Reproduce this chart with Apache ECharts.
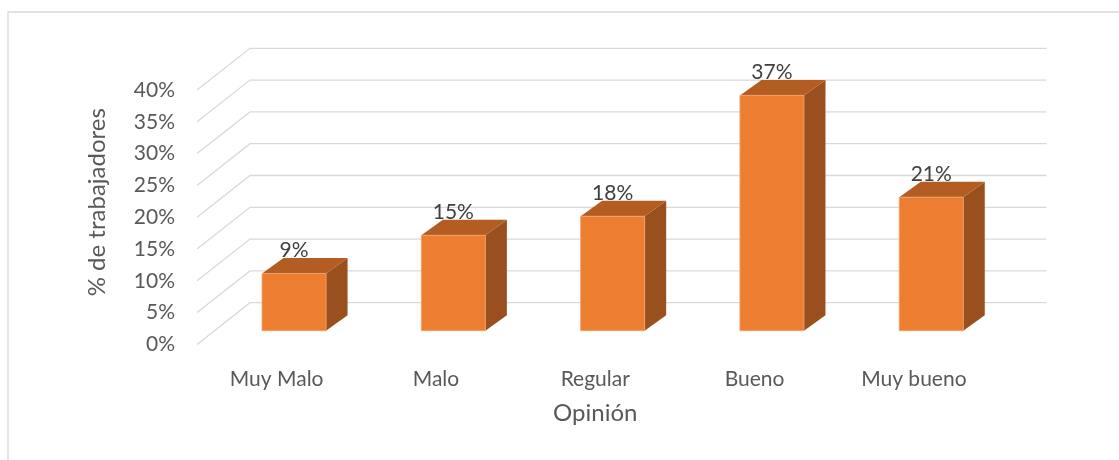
<!DOCTYPE html>
<html>
<head>
<meta charset="utf-8">
<script src="https://cdn.jsdelivr.net/npm/echarts@6/dist/echarts.min.js"></script>
<style>
  html, body { margin: 0; padding: 0; background: #fff; }
  #chart { width: 1119px; height: 460px; }
</style>
</head>
<body>
<div id="chart"></div>
<script>
// Opinión de los trabajadores (porcentaje)
const categories = ['Muy Malo', 'Malo', 'Regular', 'Bueno', 'Muy bueno'];
const percentages = [9, 15, 18, 37, 21];
const yTicks = [0, 5, 10, 15, 20, 25, 30, 35, 40];

const FONT = 'Lato, "Open Sans", sans-serif';
const TEXT_COLOR = '#595959';
const GRID_COLOR = '#d9d9d9';

// Depth between the front edge of the side wall and the back wall (px)
const WALL_DEPTH = [-53, 41.7];
// Where the bar's front face sits relative to the back wall, and the bar's own depth
const BAR_SHIFT = [-35.6, 28];
const BAR_DEPTH = [21.5, -15.5];
const BAR_RATIO = 0.402;

const chart = echarts.init(document.getElementById('chart'), null, { renderer: 'canvas' });

// Back wall horizontal lines plus the receding lines on the left side wall
function renderWallLine(params, api) {
  const cs = params.coordSys;
  const y = api.coord([0, api.value(1)])[1];
  return {
    type: 'polyline',
    shape: {
      points: [
        [cs.x + WALL_DEPTH[0], y + WALL_DEPTH[1]],
        [cs.x, y],
        [cs.x + cs.width, y]
      ]
    },
    style: { stroke: GRID_COLOR, lineWidth: 1.3, fill: null },
    silent: true
  };
}

// 3D-looking column: front face, top face, right side face and value label
function renderBar(params, api) {
  const idx = api.value(0);
  const v = api.value(1);
  const base = api.coord([idx, 0]);
  const top = api.coord([idx, v]);
  const w = api.size([1, 0])[0] * BAR_RATIO;
  const x0 = base[0] - w / 2 + BAR_SHIFT[0];
  const x1 = x0 + w;
  const yb = base[1] + BAR_SHIFT[1];
  const yt = top[1] + BAR_SHIFT[1];
  const dx = BAR_DEPTH[0], dy = BAR_DEPTH[1];
  return {
    type: 'group',
    children: [
      {
        type: 'polygon',
        shape: { points: [[x1, yb], [x1 + dx, yb + dy], [x1 + dx, yt + dy], [x1, yt]] },
        style: { fill: '#9a4f1e' }
      },
      {
        type: 'polygon',
        shape: { points: [[x0, yt], [x1, yt], [x1 + dx, yt + dy], [x0 + dx, yt + dy]] },
        style: { fill: '#b45d23' }
      },
      {
        type: 'rect',
        shape: { x: x0, y: yt, width: w, height: yb - yt },
        style: { fill: '#ed7d31', stroke: '#f3a26c', lineWidth: 0.8 }
      },
      {
        type: 'text',
        style: {
          text: v + '%',
          x: (x0 + x1) / 2,
          y: yt - 23,
          align: 'center',
          verticalAlign: 'middle',
          fill: '#404040',
          font: '21px ' + FONT
        }
      }
    ]
  };
}

const option = {
  animation: false,
  backgroundColor: '#ffffff',
  textStyle: { fontFamily: FONT },
  graphic: [
    {
      type: 'rect',
      shape: { x: 8, y: 12, width: 1200, height: 600 },
      style: { fill: null, stroke: GRID_COLOR, lineWidth: 1.3 },
      silent: true,
      z: -10
    }
  ],
  grid: [
    // back wall
    { left: 250, top: 48.3, width: 796.5, height: 254.4 },
    // front plane (axis labels)
    { left: 197, top: 90, width: 796.5, height: 254.4 }
  ],
  xAxis: [
    {
      gridIndex: 0, type: 'category', data: categories, show: false
    },
    {
      gridIndex: 1, type: 'category', data: categories,
      axisLine: { show: false }, axisTick: { show: false },
      axisLabel: { color: TEXT_COLOR, fontSize: 21, fontFamily: FONT, margin: 24 },
      name: 'Opinión', nameLocation: 'middle', nameGap: 57,
      nameTextStyle: { color: TEXT_COLOR, fontSize: 24, fontFamily: FONT }
    }
  ],
  yAxis: [
    {
      gridIndex: 0, type: 'value', min: 0, max: 40, interval: 5, show: false
    },
    {
      gridIndex: 1, type: 'value', min: 0, max: 40, interval: 5,
      axisLine: { show: false }, axisTick: { show: false }, splitLine: { show: false },
      axisLabel: {
        color: TEXT_COLOR, fontSize: 21, fontFamily: FONT, margin: 22,
        padding: [5, 0, 0, 0],
        formatter: '{value}%'
      },
      name: '% de trabajadores', nameLocation: 'middle', nameGap: 88,
      nameRotate: 90,
      nameTextStyle: { color: TEXT_COLOR, fontSize: 24, fontFamily: FONT, padding: [0, 0, 0, 30] }
    }
  ],
  series: [
    {
      type: 'custom',
      xAxisIndex: 0, yAxisIndex: 0,
      renderItem: renderWallLine,
      encode: { x: 0, y: 1 },
      data: yTicks.map(t => [0, t]),
      z: 1,
      silent: true
    },
    {
      type: 'custom',
      xAxisIndex: 0, yAxisIndex: 0,
      renderItem: renderBar,
      encode: { x: 0, y: 1 },
      data: percentages.map((p, i) => [i, p]),
      z: 5
    }
  ]
};

chart.setOption(option);
</script>
</body>
</html>
